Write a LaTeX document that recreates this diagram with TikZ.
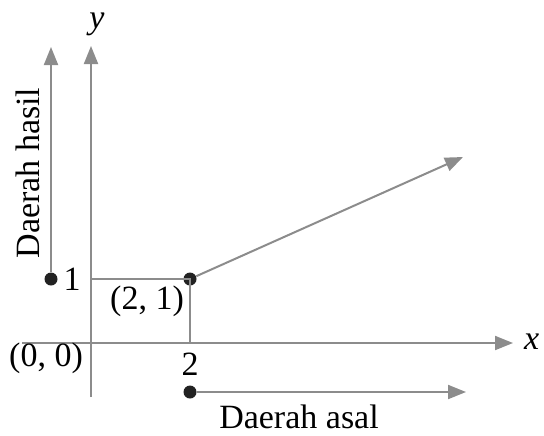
\documentclass[tikz,border=0pt]{standalone}
\usepackage{fontspec}
\setmainfont{Liberation Serif}
\usetikzlibrary{arrows.meta, positioning, calc}
\definecolor{axGray}{HTML}{8C8C8C}
\definecolor{dotDark}{HTML}{222222}
\begin{document}
\begin{tikzpicture}[x=0.5pt,y=-0.5pt,font=\fontsize{17}{20}\selectfont]
\useasboundingbox (0,0) rectangle (544,435);
\tikzset{
  axline/.style={axGray,line width=1pt,-{Triangle[length=9pt,width=7pt]}},
  guide/.style={axGray,line width=0.9pt},
  dotpt/.style={circle,fill=dotDark,inner sep=0pt,minimum size=6.5pt}
}
% axes
\coordinate (xstart) at (22,343);
\coordinate (xend) at (513,343);
\coordinate (ystart) at (91,397);
\coordinate (yend) at (91,46);
\draw[axline] (xstart) -- (xend);
\draw[axline] (ystart) -- (yend);
\node[anchor=west] (xlab) at (517,342) {\textit{x}};
\node (ylab) at (97,24) {\textit{y}};
% point (2, 1)
\coordinate (yone) at (91,279);
\coordinate (xtwo) at (190,343);
\node[dotpt] (P) at (190,279) {};
\draw[guide] (yone) -- (P.center) -- (xtwo);
\coordinate (rayend) at (463,157);
\draw[axline] (P) -- (rayend);
\node (Plab) at (147,301) {(2, 1)};
\node (Olab) at (46,358) {(0, 0)};
\node (twolab) at (190,364) {2};
% range
\node[dotpt] (hdot) at (51,279) {};
\coordinate (hend) at (51,47);
\draw[axline] (hdot) -- (hend);
\node (onelab) at (72,279) {1};
\node[rotate=90] (hlab) at (28,173) {Daerah hasil};
% domain
\node[dotpt] (adot) at (190,392) {};
\coordinate (aend) at (466,392);
\draw[axline] (adot) -- (aend);
\node (alab) at (299,417) {Daerah asal};
\end{tikzpicture}
\end{document}
